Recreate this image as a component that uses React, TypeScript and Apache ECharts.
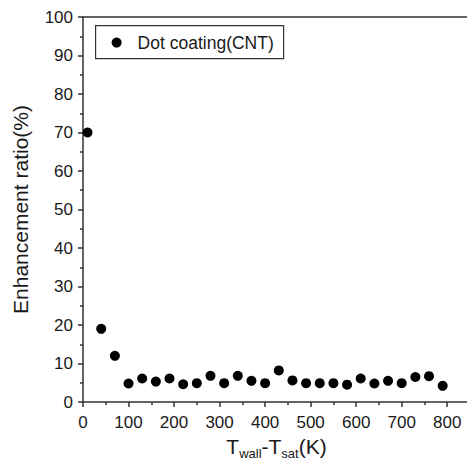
import React, { useEffect, useRef } from "react";
import * as echarts from "echarts";

const xValues = [10, 40, 70, 100, 130, 160, 190, 220, 250, 280, 310, 340, 370, 400, 430, 460, 490, 520, 550, 580, 610, 640, 670, 700, 730, 760, 790];
const yValues = [70, 19, 12, 4.8, 6.1, 5.3, 6.1, 4.6, 4.9, 6.8, 4.9, 6.8, 5.5, 4.9, 8.2, 5.6, 4.9, 4.9, 4.9, 4.5, 6.1, 4.8, 5.5, 4.9, 6.5, 6.7, 4.2];
const seriesName = "Dot coating(CNT)";
const xAxisName = "{m|T}{s|wall}{m|-T}{s|sat}{m|(K)}";
const yAxisName = "Enhancement ratio(%)";

const FONT = "'Liberation Sans', Arial, sans-serif";
const TEXT = "#1a1a1a";
const LINE = "#333333";

export default function App() {
  const ref = useRef<HTMLDivElement>(null);
  useEffect(() => {
    if (!ref.current) return;
    const chart = echarts.init(ref.current, undefined, { renderer: "svg" });
    const data = xValues.map((x, i) => [x, yValues[i]]);
    chart.setOption({
      animation: false,
      textStyle: { fontFamily: FONT },
      graphic: [
        {
          type: "group",
          left: 95,
          top: 25,
          z: 10,
          children: [
            {
              type: "rect",
              shape: { x: 0, y: 0, width: 188, height: 33 },
              style: { fill: "#ffffff", stroke: LINE, lineWidth: 1.2 },
            },
            {
              type: "circle",
              shape: { cx: 21, cy: 17, r: 5 },
              style: { fill: "#000000" },
            },
            {
              type: "text",
              x: 42,
              y: 17,
              style: {
                text: seriesName,
                fill: TEXT,
                fontSize: 17.5,
                fontFamily: FONT,
                verticalAlign: "middle",
                align: "left",
              },
            },
          ],
        },
      ],
      grid: { left: 83, top: 17, width: 387, bottom: 58, containLabel: false, outerBoundsMode: "none" },
      xAxis: [
        {
          type: "value",
          min: 0,
          max: 850,
          interval: 100,
          position: "bottom",
          name: xAxisName,
          nameLocation: "middle",
          nameGap: 26,
          nameTextStyle: {
            color: TEXT,
            fontFamily: FONT,
            rich: {
              m: { fontSize: 21, color: TEXT, fontFamily: FONT },
              s: { fontSize: 13, color: TEXT, fontFamily: FONT, padding: [14, 0, 0, 0] },
            },
          },
          axisLine: { show: true, onZero: false, lineStyle: { color: LINE, width: 1.5 } },
          axisTick: { show: true, length: 5, lineStyle: { color: LINE, width: 1.5 } },
          minorTick: { show: true, splitNumber: 2, length: 3, lineStyle: { color: LINE, width: 1.5 } },
          axisLabel: { fontSize: 17, color: TEXT, margin: 12, fontFamily: FONT, showMaxLabel: false },
          splitLine: { show: false },
        },
        {
          type: "value",
          min: 0,
          max: 850,
          position: "top",
          axisLine: { show: true, onZero: false, lineStyle: { color: LINE, width: 1.5 } },
          axisTick: { show: false },
          axisLabel: { show: false },
          splitLine: { show: false },
        },
      ],
      yAxis: {
        type: "value",
        min: 0,
        max: 100,
        interval: 10,
        name: yAxisName,
        nameLocation: "middle",
        nameGap: 52,
        nameTextStyle: { fontSize: 21, color: TEXT, fontFamily: FONT },
        axisLine: { show: true, onZero: false, lineStyle: { color: LINE, width: 1.5 } },
        axisTick: { show: true, length: 5, lineStyle: { color: LINE, width: 1.5 } },
        minorTick: { show: true, splitNumber: 2, length: 3, lineStyle: { color: LINE, width: 1.5 } },
        axisLabel: { fontSize: 17, color: TEXT, margin: 10, fontFamily: FONT },
        splitLine: { show: false },
      },
      series: [
        {
          name: seriesName,
          type: "scatter",
          symbol: "circle",
          symbolSize: 10,
          itemStyle: { color: "#000000", opacity: 1 },
          data,
        },
      ],
    });
    return () => chart.dispose();
  }, []);
  return (
    <div
      ref={ref}
      style={{ position: "fixed", left: 0, top: 0, width: 467, height: 460, background: "#fff" }}
    />
  );
}
